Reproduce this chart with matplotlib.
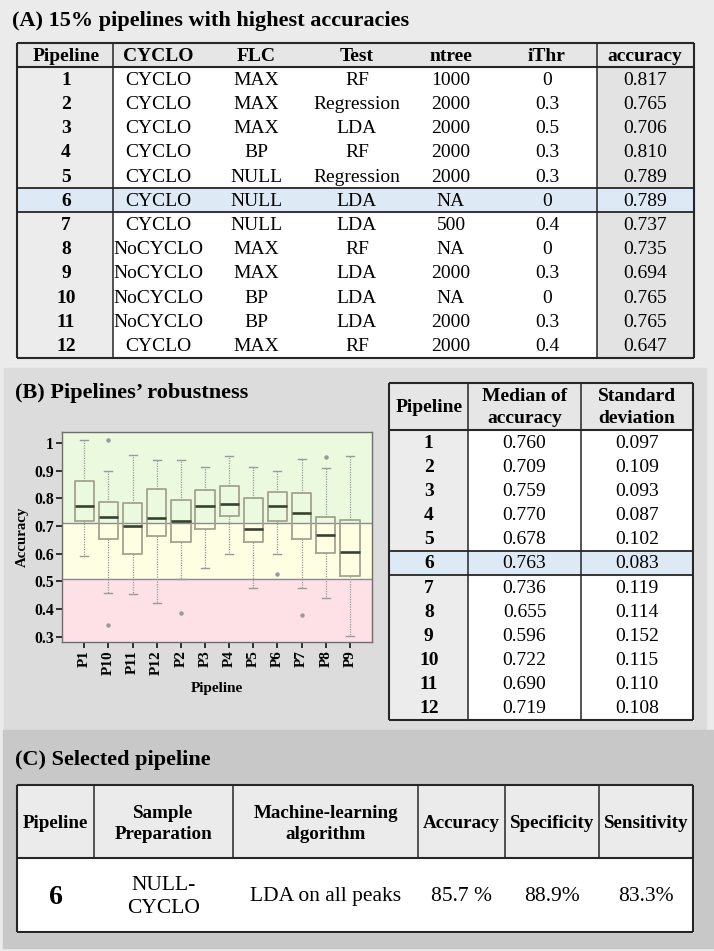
import matplotlib
matplotlib.use("Agg")
import matplotlib.pyplot as plt
from matplotlib.patches import Rectangle

plt.rcParams['font.family'] = ['Liberation Serif', 'DejaVu Serif']

# (A) 15% pipelines with highest accuracies
pipelines = [1, 2, 3, 4, 5, 6, 7, 8, 9, 10, 11, 12]
cyclo = ["CYCLO", "CYCLO", "CYCLO", "CYCLO", "CYCLO", "CYCLO", "CYCLO",
         "NoCYCLO", "NoCYCLO", "NoCYCLO", "NoCYCLO", "CYCLO"]
flc = ["MAX", "MAX", "MAX", "BP", "NULL", "NULL", "NULL", "MAX", "MAX", "BP", "BP", "MAX"]
test = ["RF", "Regression", "LDA", "RF", "Regression", "LDA", "LDA", "RF", "LDA", "LDA", "LDA", "RF"]
ntree = ["1000", "2000", "2000", "2000", "2000", "NA", "500", "NA", "2000", "NA", "2000", "2000"]
ithr = ["0", "0.3", "0.5", "0.3", "0.3", "0", "0.4", "0", "0.3", "0", "0.3", "0.4"]
accuracy = [0.817, 0.765, 0.706, 0.810, 0.789, 0.789, 0.737, 0.735, 0.694, 0.765, 0.765, 0.647]
selected = 6

# (B) boxplot of accuracies per pipeline
box_labels = ["P1", "P10", "P11", "P12", "P2", "P3", "P4", "P5", "P6", "P7", "P8", "P9"]
whisker_low = [0.593, 0.458, 0.454, 0.422, 0.510, 0.548, 0.598, 0.476, 0.598, 0.476, 0.439, 0.304]
q1 = [0.719, 0.653, 0.598, 0.665, 0.641, 0.689, 0.735, 0.641, 0.719, 0.653, 0.601, 0.521]
medians = [0.771, 0.732, 0.701, 0.730, 0.719, 0.771, 0.780, 0.688, 0.773, 0.747, 0.666, 0.607]
q3 = [0.861, 0.786, 0.783, 0.834, 0.795, 0.831, 0.843, 0.800, 0.823, 0.818, 0.732, 0.720]
whisker_high = [1.010, 0.899, 0.957, 0.938, 0.938, 0.913, 0.953, 0.913, 0.899, 0.943, 0.910, 0.953]
outliers = [[], [1.010, 0.343], [], [], [0.385], [], [], [], [0.526], [0.379], [0.949], []]
good_limit = 0.71
bad_limit = 0.51

# (B) table
median_acc = [0.760, 0.709, 0.759, 0.770, 0.678, 0.763, 0.736, 0.655, 0.596, 0.722, 0.690, 0.719]
std_dev = [0.097, 0.109, 0.093, 0.087, 0.102, 0.083, 0.119, 0.114, 0.152, 0.115, 0.110, 0.108]

# (C) selected pipeline
sel_headers = ["Pipeline", "Sample\nPreparation", "Machine-learning\nalgorithm",
               "Accuracy", "Specificity", "Sensitivity"]
sel_values = ["6", "NULL-\nCYCLO", "LDA on all peaks", "85.7 %", "88.9%", "83.3%"]

W, H = 714, 951
fig = plt.figure(figsize=(W / 100, H / 100), dpi=100)
ax = fig.add_axes([0, 0, 1, 1])
ax.set_xlim(0, W)
ax.set_ylim(H, 0)
ax.axis("off")

dark = "#262626"
hl_blue = "#dde9f5"

# panel backgrounds
ax.add_patch(Rectangle((0, 0), W, H, color="#ebebeb", zorder=0))
ax.add_patch(Rectangle((4, 368), 702, 362, color="#dcdcdc", zorder=0))
ax.add_patch(Rectangle((3, 730), 710, 218, color="#c8c8c8", zorder=0))


def txt(x, y, s, size=14, bold=False, **kw):
    ax.text(x, y, s, ha="center", va="center", fontsize=size,
            fontweight="bold" if bold else "normal", zorder=5, **kw)


def hline(x0, x1, y, lw=1.0):
    ax.plot([x0, x1], [y, y], color=dark, lw=lw, zorder=4, solid_capstyle="butt")


def vline(x, y0, y1, lw=1.0):
    ax.plot([x, x], [y0, y1], color=dark, lw=lw, zorder=4, solid_capstyle="butt")


# ---------- panel A ----------
ax.text(12, 21, "(A) 15% pipelines with highest accuracies", fontsize=16,
        fontweight="bold", ha="left", va="center")

a_left, a_right = 17, 694
a_div1, a_div2 = 113, 597
a_top, a_head = 43, 67.3
a_row = (357.5 - a_head) / len(pipelines)
a_bottom = a_head + a_row * len(pipelines)
a_cols = [66, 158, 256, 357, 451, 547, 645]

ax.add_patch(Rectangle((a_left, a_top), a_right - a_left, a_head - a_top, color="#e6e6e6", zorder=1))
ax.add_patch(Rectangle((a_left, a_head), a_div1 - a_left, a_bottom - a_head, color="#ececec", zorder=1))
ax.add_patch(Rectangle((a_div1, a_head), a_div2 - a_div1, a_bottom - a_head, color="white", zorder=1))
ax.add_patch(Rectangle((a_div2, a_head), a_right - a_div2, a_bottom - a_head, color="#e3e3e3", zorder=1))
sel_y = a_head + a_row * (selected - 1)
ax.add_patch(Rectangle((a_left, sel_y), a_right - a_left, a_row, color=hl_blue, zorder=2))

for x, h in zip(a_cols, ["Pipeline", "CYCLO", "FLC", "Test", "ntree", "iThr", "accuracy"]):
    txt(x, (a_top + a_head) / 2 + 1, h, bold=True)

for i in range(len(pipelines)):
    y = a_head + a_row * (i + 0.5) + 1
    txt(a_cols[0], y, str(pipelines[i]), bold=True)
    row = [cyclo[i], flc[i], test[i], ntree[i], ithr[i], "%.3f" % accuracy[i]]
    for x, s in zip(a_cols[1:], row):
        txt(x, y, s)

hline(a_left, a_right, a_top, 1.5)
hline(a_left, a_right, a_head, 1.5)
hline(a_left, a_right, sel_y, 1.3)
hline(a_left, a_right, sel_y + a_row, 1.3)
hline(a_left, a_right, a_bottom, 1.5)
for x in [a_left, a_div1, a_div2, a_right]:
    vline(x, a_top, a_bottom, 1.5 if x in (a_left, a_right) else 1.1)

# ---------- panel B ----------
ax.text(15, 393, "(B) Pipelines\u2019 robustness", fontsize=16,
        fontweight="bold", ha="left", va="center")

b_left, b_right = 389.3, 693.3
b_div1, b_div2 = 468.3, 580.7
b_top, b_head = 382.7, 430
b_row = (720 - b_head) / len(median_acc)
b_bottom = b_head + b_row * len(median_acc)
b_cols = [(b_left + b_div1) / 2, (b_div1 + b_div2) / 2, (b_div2 + b_right) / 2]

ax.add_patch(Rectangle((b_left, b_top), b_right - b_left, b_head - b_top, color="#e6e6e6", zorder=1))
ax.add_patch(Rectangle((b_left, b_head), b_div1 - b_left, b_bottom - b_head, color="#ececec", zorder=1))
ax.add_patch(Rectangle((b_div1, b_head), b_right - b_div1, b_bottom - b_head, color="white", zorder=1))
sel_yb = b_head + b_row * (selected - 1)
ax.add_patch(Rectangle((b_left, sel_yb), b_right - b_left, b_row, color=hl_blue, zorder=2))

for x, h in zip(b_cols, ["Pipeline", "Median of\naccuracy", "Standard\ndeviation"]):
    txt(x, (b_top + b_head) / 2 + 1, h, bold=True, linespacing=1.35)

for i in range(len(median_acc)):
    y = b_head + b_row * (i + 0.5) + 1
    txt(b_cols[0], y, str(pipelines[i]), bold=True)
    txt(b_cols[1], y, "%.3f" % median_acc[i])
    txt(b_cols[2], y, "%.3f" % std_dev[i])

hline(b_left, b_right, b_top, 1.5)
hline(b_left, b_right, b_head, 1.5)
hline(b_left, b_right, sel_yb, 1.3)
hline(b_left, b_right, sel_yb + b_row, 1.3)
hline(b_left, b_right, b_bottom, 1.5)
for x in [b_left, b_div1, b_div2, b_right]:
    vline(x, b_top, b_bottom, 1.5 if x in (b_left, b_right) else 1.1)

# boxplot
bl, br, bt, bb = 62, 371.7, 432.3, 641.7
bax = fig.add_axes([bl / W, 1 - bb / H, (br - bl) / W, (bb - bt) / H])
ylo, yhi = 0.282, 1.038
bax.axhspan(good_limit, yhi, color="#ebf9df", zorder=0)
bax.axhspan(bad_limit, good_limit, color="#fefee3", zorder=0)
bax.axhspan(ylo, bad_limit, color="#fee0e7", zorder=0)
bax.axhline(good_limit, color="#8c8c8c", lw=1.0, zorder=1)
bax.axhline(bad_limit, color="#8c8c8c", lw=1.0, zorder=1)

stats = []
for i in range(len(box_labels)):
    stats.append({"label": box_labels[i], "whislo": whisker_low[i], "q1": q1[i],
                  "med": medians[i], "q3": q3[i], "whishi": whisker_high[i],
                  "fliers": outliers[i]})
positions = list(range(1, len(box_labels) + 1))
bax.bxp(stats, positions=positions, widths=0.8, capwidths=0.33, patch_artist=False,
        boxprops=dict(color="#a3a38f", lw=1.3),
        medianprops=dict(color="#36422f", lw=1.9),
        whiskerprops=dict(color="#9a9a9a", lw=0.9, linestyle=(0, (1, 1))),
        capprops=dict(color="#9a9a9a", lw=1.0),
        flierprops=dict(marker="o", markersize=2.2, markerfacecolor="#9a9a9a",
                        markeredgecolor="#9a9a9a"))
bax.set_xlim(0.08, 12.9)
bax.set_ylim(ylo, yhi)
bax.set_yticks([1.0, 0.9, 0.8, 0.7, 0.6, 0.5, 0.4, 0.3])
bax.set_yticklabels(["1", "0.9", "0.8", "0.7", "0.6", "0.5", "0.4", "0.3"],
                    fontsize=11.3, fontweight="bold")
bax.set_xticks(positions)
bax.set_xticklabels(box_labels, rotation=90, fontsize=11, fontweight="bold")
bax.tick_params(axis="both", length=4, width=1.3, color="#222222", pad=2)
bax.set_ylabel("Accuracy", fontsize=10.7, fontweight="bold", labelpad=4)
bax.set_xlabel("Pipeline", fontsize=11, fontweight="bold", labelpad=5)
for sp in bax.spines.values():
    sp.set_color("#6e6e6e")
    sp.set_linewidth(1.0)

# ---------- panel C ----------
ax.text(15, 760, "(C) Selected pipeline", fontsize=16,
        fontweight="bold", ha="left", va="center")

c_edges = [17, 94, 233, 418.3, 505, 599, 693.3]
c_top, c_head, c_bottom = 785, 858.3, 931.5

ax.add_patch(Rectangle((c_edges[0], c_top), c_edges[-1] - c_edges[0], c_head - c_top,
                       color="#ebebeb", zorder=1))
ax.add_patch(Rectangle((c_edges[0], c_head), c_edges[-1] - c_edges[0], c_bottom - c_head,
                       color="white", zorder=1))

for j in range(len(sel_headers)):
    xc = (c_edges[j] + c_edges[j + 1]) / 2
    txt(xc, (c_top + c_head) / 2 + 2, sel_headers[j], size=13.7, bold=True, linespacing=1.3)
    if j == 0:
        txt(xc, (c_head + c_bottom) / 2 + 3, sel_values[j], size=20, bold=True)
    else:
        txt(xc, (c_head + c_bottom) / 2 + 2, sel_values[j], size=15.5, linespacing=1.3)

hline(c_edges[0], c_edges[-1], c_top, 1.5)
hline(c_edges[0], c_edges[-1], c_head, 1.5)
hline(c_edges[0], c_edges[-1], c_bottom, 1.5)
for j, x in enumerate(c_edges):
    if j in (0, len(c_edges) - 1):
        vline(x, c_top, c_bottom, 1.5)
    else:
        vline(x, c_top, c_head, 1.1)

fig.savefig("out.png", dpi=100)
